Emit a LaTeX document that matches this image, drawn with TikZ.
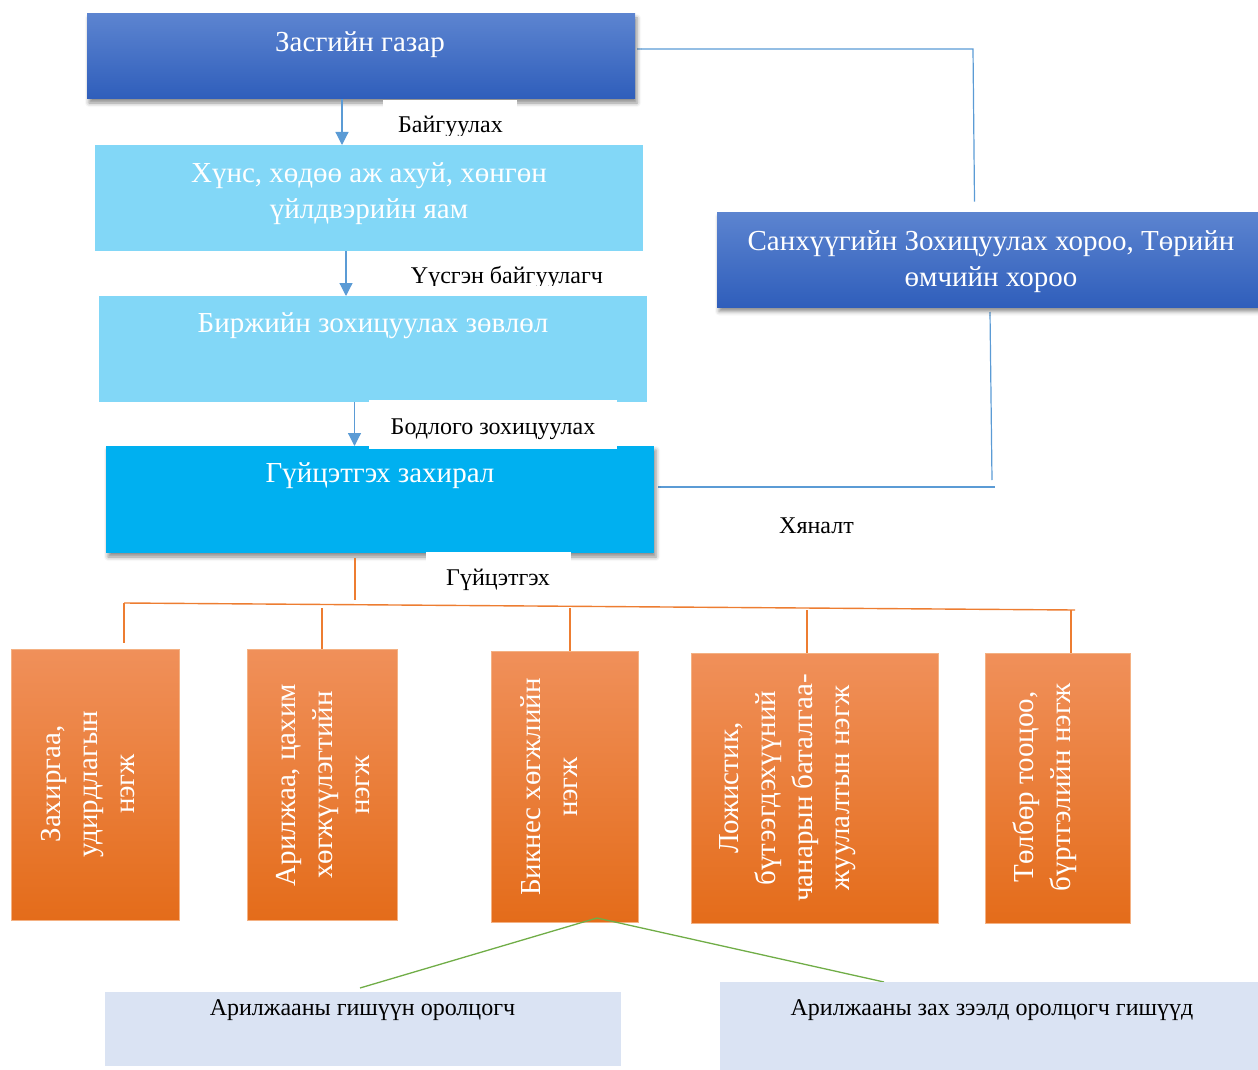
\documentclass[tikz,border=0pt]{standalone}
\usepackage{fontspec}
\setmainfont{Liberation Serif}
\usetikzlibrary{shadows.blur,arrows.meta}
\definecolor{blueT}{RGB}{92,132,208}
\definecolor{blueB}{RGB}{47,94,187}
\definecolor{lightblue}{RGB}{130,215,247}
\definecolor{cyanbox}{RGB}{0,176,240}
\definecolor{orT}{RGB}{240,144,90}
\definecolor{orM}{RGB}{244,124,42}
\definecolor{orB}{RGB}{228,108,26}
\definecolor{orEdge}{RGB}{244,177,131}
\definecolor{orline}{RGB}{237,125,49}
\definecolor{conblue}{RGB}{91,155,213}
\definecolor{congreen}{RGB}{112,173,71}
\definecolor{paleblue}{RGB}{218,227,243}
\begin{document}
\begin{tikzpicture}[x=1pt,y=-1pt,
  plainbox/.style={rectangle, inner sep=0pt, outer sep=0pt},
  shadowed/.style={blur shadow={shadow xshift=2pt, shadow yshift=-4pt, shadow blur radius=4pt, shadow opacity=45}},
  darkbox/.style={plainbox, shadowed, top color=blueT, bottom color=blueB},
  lightbox/.style={plainbox, fill=lightblue},
  cyanbox/.style={plainbox, shadowed, fill=cyanbox},
  orbox/.style={plainbox, top color=orT, middle color=orM, bottom color=orB, draw=orEdge, line width=0.8pt},
  palebox/.style={plainbox, fill=paleblue},
  labbox/.style={plainbox, fill=white},
  boxtxt/.style={text=white, font=\fontsize{29}{36}\selectfont, align=center, inner sep=0pt},
  otxt/.style={text=white, font=\fontsize{29}{37}\selectfont, align=center, inner sep=0pt, rotate=90},
  labtxt/.style={text=black, font=\fontsize{24}{28}\selectfont, inner sep=0pt},
  arr/.style={draw=conblue, line width=1.2pt, -{Triangle[width=13pt,length=13pt]}},
  bline/.style={draw=conblue, line width=1.2pt},
  oline/.style={draw=orline, line width=1.4pt},
  gline/.style={draw=congreen, line width=1.3pt}
]
\useasboundingbox (0,0) rectangle (1258,1070);

% connectors on the right
\coordinate (k1) at (637,49);
\coordinate (k2) at (973,49);
\coordinate (k3) at (974.5,201.7);
\draw[bline] (k1) -- (k2) -- (k3);
\coordinate (k4) at (990,312);
\coordinate (k5) at (992,480);
\draw[bline] (k4) -- (k5);
\coordinate (k6) at (658,487);
\coordinate (k7) at (995,487);
\draw[bline] (k6) -- (k7);

% main column boxes
\node[darkbox, minimum width=548pt, minimum height=85pt] (gov) at (361,56.5) {};
\node[boxtxt, anchor=base] (govt) at (360,52) {Засгийн газар};

\node[lightbox, minimum width=548pt, minimum height=106pt] (mini) at (369,198) {};
\node[boxtxt] (minit) at (369,194) {Хүнс, хөдөө аж ахуй, хөнгөн\\үйлдвэрийн яам};

\node[lightbox, minimum width=548pt, minimum height=106pt] (bzc) at (373,349) {};
\node[boxtxt, anchor=base] (bzct) at (373,332.7) {Биржийн зохицуулах зөвлөл};

\node[cyanbox, minimum width=548pt, minimum height=107pt] (exec) at (380,499.5) {};
\node[boxtxt, anchor=base] (exect) at (380,482.7) {Гүйцэтгэх захирал};

\node[darkbox, minimum width=548pt, minimum height=95pt] (fsc) at (991,260) {};
\node[boxtxt] (fsct) at (991,261.5) {Санхүүгийн Зохицуулах хороо, Төрийн\\өмчийн хороо};

% arrows
\draw[arr] (gov.south -| 342,0) -- (mini.north -| 342,0);
\draw[arr] (mini.south -| 346,0) -- (bzc.north -| 346,0);
\draw[arr] (bzc.south -| 354.5,0) -- (exec.north -| 354.5,0);

% labels
\node[labbox, minimum width=134pt, minimum height=35.7pt, anchor=north west] (l1) at (383,100) {};
\begin{scope}
\clip (l1.north west) rectangle (l1.south east);
\node[labtxt, anchor=base] (l1t) at (450.5,132.7) {Байгуулах};
\end{scope}
\node[labbox, minimum width=233pt, minimum height=34.7pt, anchor=north west] (l2) at (390,251) {};
\begin{scope}
\clip (l2.north west) rectangle (l2.south east);
\node[labtxt, anchor=base] (l2t) at (507,283.3) {Үүсгэн байгуулагч};
\end{scope}
\node[labbox, minimum width=248pt, minimum height=49pt, anchor=north west] (l3) at (369,400) {};
\node[labtxt, anchor=base] (l3t) at (493,434.3) {Бодлого зохицуулах};
\node[labbox, minimum width=145pt, minimum height=45pt, anchor=north west] (l4) at (426,552) {};
\node[labtxt, anchor=base] (l4t) at (498,585) {Гүйцэтгэх};

\node[labtxt, anchor=base] (hy) at (816.5,533) {Хяналт};

% orange tree
\coordinate (t1) at (355,558);
\coordinate (t2) at (355,600);
\draw[oline] (t1) -- (t2);
\coordinate (h1) at (124,603);
\coordinate (h2) at (1075,610);
\draw[oline] (h1) -- (h2);

\node[orbox, minimum width=168pt, minimum height=271pt] (o1) at (95,784.5) {};
\node[orbox, minimum width=150pt, minimum height=271pt] (o2) at (322,784.5) {};
\node[orbox, minimum width=147pt, minimum height=271pt] (o3) at (564.5,786.5) {};
\node[orbox, minimum width=247pt, minimum height=270pt] (o4) at (814.5,788) {};
\node[orbox, minimum width=145pt, minimum height=270pt] (o5) at (1057.5,788) {};

\coordinate (d1) at (124,643);
\draw[oline] (h1) -- (d1);
\coordinate (d2) at (322,608);
\draw[oline] (d2) -- (o2.north -| 322,0);
\coordinate (d3) at (570,608);
\draw[oline] (d3) -- (o3.north -| 570,0);
\coordinate (d4) at (807,610);
\draw[oline] (d4) -- (o4.north -| 807,0);
\coordinate (d5) at (1071,610);
\draw[oline] (d5) -- (o5.north -| 1071,0);

\node[otxt] (o1t) at (88,784) {Захиргаа,\\удирдлагын\\нэгж};
\node[otxt] (o2t) at (323,785) {Арилжаа, цахим\\хөгжүүлэгтийн\\нэгж};
\node[otxt] (o3t) at (549,787) {Бикнес хөгжлийн\\нэгж};
\node[otxt] (o4t) at (788,788) {Ложистик,\\бүтээгдэхүүний\\чанарын баталгаа-\\жуулалтын нэгж};
\node[otxt] (o5t) at (1045,787) {Төлбөр тооцоо,\\бүртгэлийн нэгж};

% green connectors
\coordinate (g0) at (597,918);
\coordinate (gA) at (360,988);
\coordinate (gB) at (884,982);
\draw[gline] (g0) -- (gA);
\draw[gline] (g0) -- (gB);

% bottom boxes
\node[palebox, minimum width=516pt, minimum height=74pt] (pa) at (363,1029) {};
\node[labtxt, anchor=base] (pat) at (362.5,1015) {Арилжааны гишүүн оролцогч};
\node[palebox, minimum width=544pt, minimum height=90pt] (pb) at (992,1027) {};
\node[labtxt, anchor=base] (pbt) at (992,1015) {Арилжааны зах зээлд оролцогч гишүүд};
\end{tikzpicture}
\end{document}
